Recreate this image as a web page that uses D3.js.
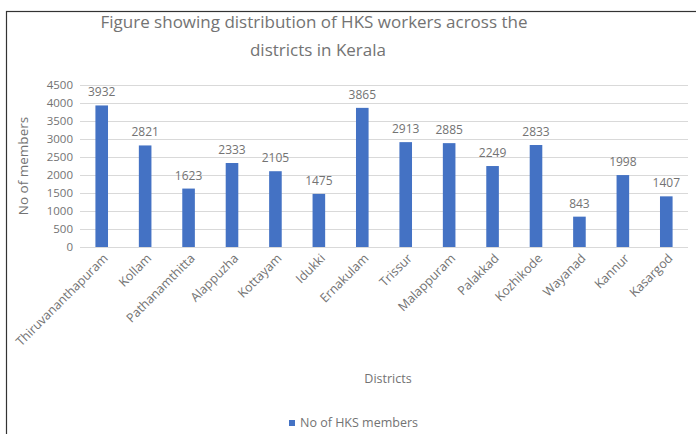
<!DOCTYPE html>
<html>
<head>
<meta charset="utf-8">
<script src="https://cdn.jsdelivr.net/npm/d3@7"></script>
<style>
  body { margin: 0; background: #fff; }
  svg { display: block; font-family: 'Open Sans', sans-serif; }
</style>
</head>
<body>
<svg id="chart" width="696" height="434"></svg>
<script>
const districts = ['Thiruvananthapuram', 'Kollam', 'Pathanamthitta', 'Alappuzha', 'Kottayam',
  'Idukki', 'Ernakulam', 'Trissur', 'Malappuram', 'Palakkad', 'Kozhikode', 'Wayanad', 'Kannur', 'Kasargod'];
const members = [3932, 2821, 1623, 2333, 2105, 1475, 3865, 2913, 2885, 2249, 2833, 843, 1998, 1407];
const yTicks = [0, 500, 1000, 1500, 2000, 2500, 3000, 3500, 4000, 4500];

const cfg = {
  left: 80, right: 688, top: 85, bottom: 247,
  barColor: '#4472c4',
  gridColor: '#d9d9d9',
  textColor: '#737373',
  labelSize: '12px',
};

const svg = d3.select('#chart');

// chart frame
svg.append('rect')
  .attr('x', 6.5).attr('y', 11.5)
  .attr('width', 700).attr('height', 440)
  .attr('fill', 'none')
  .attr('stroke', '#333')
  .attr('stroke-width', 1.2);

// scales
const x = d3.scaleBand()
  .domain(districts)
  .range([cfg.left, cfg.right])
  .paddingInner(0.71)
  .paddingOuter(0.355);
const y = d3.scaleLinear()
  .domain([0, 4500])
  .range([cfg.bottom, cfg.top]);

// gridlines
svg.append('g')
  .selectAll('line')
  .data(yTicks)
  .join('line')
  .attr('x1', cfg.left).attr('x2', cfg.right)
  .attr('y1', d => y(d) + 0.5).attr('y2', d => y(d) + 0.5)
  .attr('stroke', cfg.gridColor);

// y axis labels
const yAxis = svg.append('g')
  .attr('transform', `translate(${cfg.left - 7},0)`)
  .call(d3.axisLeft(y).tickValues(yTicks).tickFormat(d3.format('d')).tickSize(0).tickPadding(0));
yAxis.select('.domain').remove();
yAxis.selectAll('text')
  .style('font-size', '11.5px')
  .style('font-family', "'Open Sans', sans-serif")
  .attr('fill', cfg.textColor);

// bars
svg.append('g')
  .selectAll('rect')
  .data(districts)
  .join('rect')
  .attr('x', d => x(d))
  .attr('width', x.bandwidth())
  .attr('y', (d, i) => y(members[i]))
  .attr('height', (d, i) => y(0) - y(members[i]))
  .attr('fill', cfg.barColor);

// value labels
svg.append('g')
  .selectAll('text')
  .data(districts)
  .join('text')
  .attr('x', d => x(d) + x.bandwidth() / 2)
  .attr('y', (d, i) => y(members[i]) - 9)
  .attr('text-anchor', 'middle')
  .style('font-size', cfg.labelSize)
  .attr('fill', cfg.textColor)
  .text((d, i) => members[i]);

// x axis labels, rotated
svg.append('g')
  .selectAll('text')
  .data(districts)
  .join('text')
  .attr('transform', d => `translate(${x(d) + x.bandwidth() / 2 + 4},${cfg.bottom + 9}) rotate(-45)`)
  .attr('text-anchor', 'end')
  .attr('dy', '0.35em')
  .style('font-size', '12.5px')
  .attr('fill', cfg.textColor)
  .text(d => d);

// title
svg.append('text')
  .attr('x', 314).attr('y', 28)
  .attr('text-anchor', 'middle')
  .style('font-size', '17px')
  .attr('fill', cfg.textColor)
  .text('Figure showing distribution of HKS workers across the');
svg.append('text')
  .attr('x', 318).attr('y', 56)
  .attr('text-anchor', 'middle')
  .style('font-size', '17px')
  .attr('fill', cfg.textColor)
  .text('districts in Kerala');

// axis titles
svg.append('text')
  .attr('transform', `translate(28,${(cfg.top + cfg.bottom) / 2}) rotate(-90)`)
  .attr('text-anchor', 'middle')
  .style('font-size', '13.5px')
  .attr('fill', cfg.textColor)
  .text('No of members');
svg.append('text')
  .attr('x', 388).attr('y', 383)
  .attr('text-anchor', 'middle')
  .style('font-size', '12.5px')
  .attr('fill', cfg.textColor)
  .text('Districts');

// legend
svg.append('rect')
  .attr('x', 289).attr('y', 420)
  .attr('width', 6).attr('height', 6)
  .attr('fill', cfg.barColor);
svg.append('text')
  .attr('x', 300).attr('y', 427)
  .style('font-size', '12.5px')
  .attr('fill', cfg.textColor)
  .text('No of HKS members');
</script>
</body>
</html>
